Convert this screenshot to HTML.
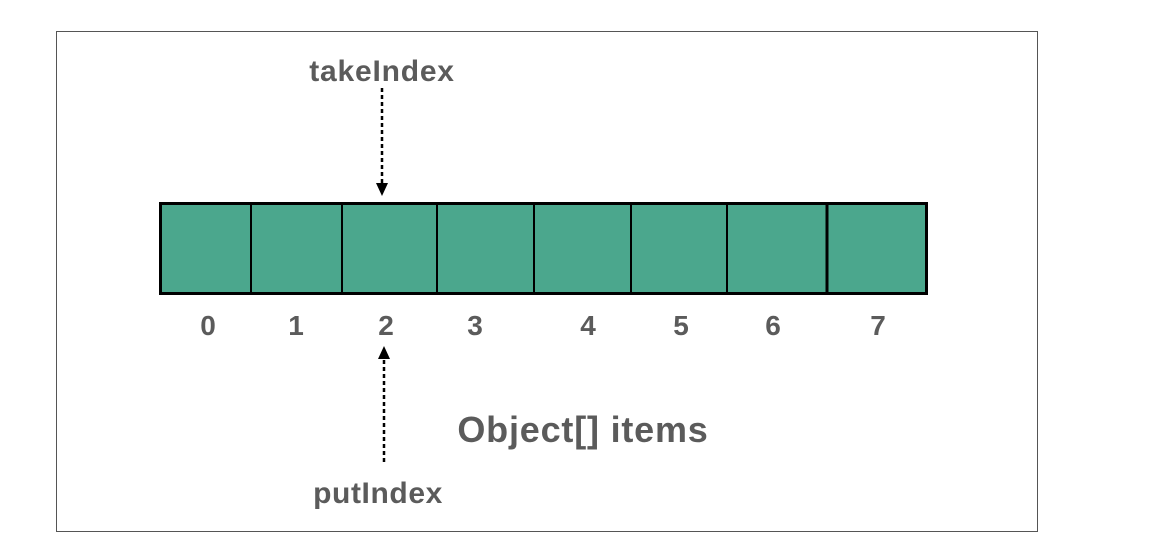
<!DOCTYPE html>
<html><head><style>
body{margin:0;width:1152px;height:560px;background:#fff;position:relative;overflow:hidden;font-family:"Liberation Sans",sans-serif;font-weight:bold;color:#5b5b5b}
.t{position:absolute;white-space:nowrap;transform:translate(-50%,-50%)}
.n{font-size:28px}
</style></head><body>
<svg width="1152" height="560" style="position:absolute;left:0;top:0">
<rect x="56.5" y="31.5" width="981" height="500" fill="none" stroke="#555" stroke-width="1"/>
<rect x="160.5" y="203.5" width="766" height="90" fill="#4BA78D" stroke="#000" stroke-width="3"/>
<g stroke="#000" stroke-width="2">
<line x1="251" y1="204" x2="251" y2="293"/>
<line x1="342" y1="204" x2="342" y2="293"/>
<line x1="437" y1="204" x2="437" y2="293"/>
<line x1="534" y1="204" x2="534" y2="293"/>
<line x1="631" y1="204" x2="631" y2="293"/>
<line x1="727" y1="204" x2="727" y2="293"/>
<line x1="827" y1="204" x2="827" y2="293" stroke-width="3"/>
</g>
<line x1="382" y1="88" x2="382" y2="184" stroke="#000" stroke-width="2.5" stroke-dasharray="4,3"/>
<polygon points="376,183 388,183 382,196" fill="#000"/>
<line x1="384" y1="462" x2="384" y2="358" stroke="#000" stroke-width="2.5" stroke-dasharray="4,3"/>
<polygon points="378,359 390,359 384,346" fill="#000"/>
</svg>
<div class="t" style="left:382px;top:72px;font-size:30px;letter-spacing:0.8px">takeIndex</div>
<div class="t" style="left:378px;top:494px;font-size:30px;letter-spacing:0.6px">putIndex</div>
<div class="t" style="left:583px;top:430px;font-size:36px;letter-spacing:0.8px">Object[] items</div>
<div class="t n" style="left:208px;top:326px">0</div>
<div class="t n" style="left:296px;top:326px">1</div>
<div class="t n" style="left:386px;top:326px">2</div>
<div class="t n" style="left:475px;top:326px">3</div>
<div class="t n" style="left:588px;top:326px">4</div>
<div class="t n" style="left:681px;top:326px">5</div>
<div class="t n" style="left:773px;top:326px">6</div>
<div class="t n" style="left:878px;top:326px">7</div>
</body></html>
